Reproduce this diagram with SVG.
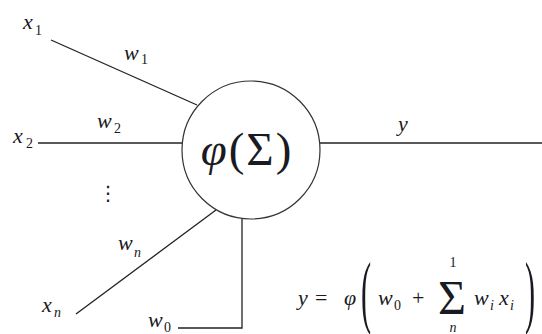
<svg xmlns="http://www.w3.org/2000/svg" width="542" height="334" viewBox="0 0 542 334">
<style>
.ln{stroke:#222;stroke-width:1.3;fill:none}
.v{font-family:"Liberation Serif",serif;font-style:italic;font-size:22px;fill:#1a1a22}
.s{font-family:"Liberation Serif",serif;font-size:14px;fill:#1a1a22}
.si{font-family:"Liberation Serif",serif;font-style:italic;font-size:14px;fill:#1a1a22}
.u{font-family:"Liberation Serif",serif;fill:#1a1a22}
</style>
<rect width="542" height="334" fill="#fff"/>
<g id="connectors">
<line class="ln" x1="51" y1="40" x2="197" y2="105"/>
<line class="ln" x1="38" y1="143" x2="182" y2="143"/>
<line class="ln" x1="76" y1="314" x2="216" y2="210"/>
<polyline class="ln" points="242,218.5 242,328 178,328"/>
<line class="ln" x1="320" y1="143" x2="542" y2="143"/>
</g>
<g id="neuron">
<circle cx="251" cy="150" r="69" fill="#fff" stroke="#333" stroke-width="1.2"/>
<text class="u" x="247" y="165" font-size="47" letter-spacing="2" text-anchor="middle"><tspan font-style="italic">φ</tspan>(Σ)</text>
</g>
<g id="input-x1">
<text class="v" x="23" y="29">x</text><text class="s" x="35" y="35">1</text>
</g>
<g id="weight-w1">
<text class="v" x="124" y="60">w</text><text class="s" x="141" y="64">1</text>
</g>
<g id="input-x2">
<text class="v" x="13" y="143">x</text><text class="s" x="26" y="148">2</text>
</g>
<g id="weight-w2">
<text class="v" x="97" y="128">w</text><text class="s" x="114" y="133">2</text>
</g>
<g id="ellipsis">
<text x="108" y="200" font-family="DejaVu Sans,sans-serif" font-size="20" text-anchor="middle" fill="#1a1a22">⋮</text>
</g>
<g id="weight-wn">
<text class="v" x="118" y="250">w</text><text class="si" x="134" y="257">n</text>
</g>
<g id="input-xn">
<text class="v" x="42" y="312">x</text><text class="si" x="54" y="317">n</text>
</g>
<g id="bias-w0">
<text class="v" x="148" y="327">w</text><text class="s" x="164" y="332">0</text>
</g>
<g id="output-y">
<text class="v" x="398" y="131">y</text>
</g>
<g id="formula">
<text class="v" x="298" y="305">y</text>
<text class="u" x="315" y="305" font-size="22">=</text>
<text class="v" x="344" y="305">φ</text>
<text class="u" font-size="80" transform="translate(361,318) scale(0.38,1)">(</text>
<text class="v" x="378" y="305">w</text><text class="s" x="394" y="310">0</text>
<text class="u" x="412" y="305" font-size="22">+</text>
<text class="u" x="452" y="314" font-size="48" text-anchor="middle">Σ</text>
<text class="s" x="453" y="267" text-anchor="middle">1</text>
<text class="si" x="453" y="332" text-anchor="middle">n</text>
<text class="v" x="474" y="305">w</text><text class="si" x="490" y="310">i</text>
<text class="v" x="499" y="305">x</text><text class="si" x="510" y="310">i</text>
<text class="u" font-size="80" transform="translate(525,318) scale(0.38,1)">)</text>
</g>
</svg>
